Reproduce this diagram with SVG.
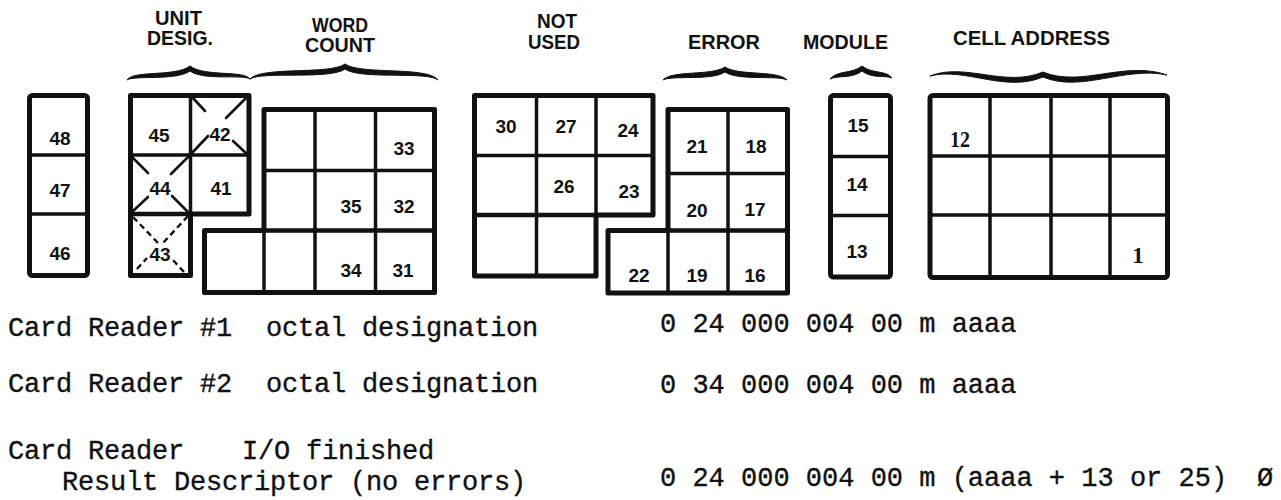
<svg xmlns="http://www.w3.org/2000/svg" width="1281" height="500" viewBox="0 0 1281 500">
<style>
.outer{fill:none;stroke:#111;stroke-width:5;stroke-linejoin:round;stroke-linecap:round}
.inner{fill:none;stroke:#111;stroke-width:3.5;stroke-linecap:round}
.diag{fill:none;stroke:#111;stroke-width:2.6;stroke-linecap:round}
.dash{fill:none;stroke:#111;stroke-width:2.4;stroke-dasharray:6 4}
.num{font-family:"Liberation Sans",Arial,sans-serif;font-weight:bold;font-size:19px;fill:#111;text-anchor:middle}
.snum{font-family:"Liberation Serif","Times New Roman",serif;font-weight:bold;font-size:23px;fill:#111;text-anchor:middle}
.hdr{font-family:"Liberation Sans",Arial,sans-serif;font-weight:bold;font-size:20px;fill:#111;text-anchor:middle}
.brace{fill:#111;stroke:#111;stroke-width:1;stroke-linejoin:round}
.tw{font-family:"Liberation Mono","Courier New",monospace;font-size:27px;letter-spacing:-0.2px;fill:#111;stroke:#111;stroke-width:0.35}
.code{font-family:"Liberation Mono","Courier New",monospace;font-size:27px;fill:#111;stroke:#111;stroke-width:0.35}
</style>
<rect width="1281" height="500" fill="#fff"/>

<g id="headers">
<text class="hdr" x="178.5" y="25" textLength="47" lengthAdjust="spacingAndGlyphs">UNIT</text>
<text class="hdr" x="180" y="45" textLength="66" lengthAdjust="spacingAndGlyphs">DESIG.</text>
<text class="hdr" x="340" y="32" textLength="56" lengthAdjust="spacingAndGlyphs">WORD</text>
<text class="hdr" x="340" y="52" textLength="70" lengthAdjust="spacingAndGlyphs">COUNT</text>
<text class="hdr" x="557" y="28" textLength="40" lengthAdjust="spacingAndGlyphs">NOT</text>
<text class="hdr" x="554" y="49" textLength="52" lengthAdjust="spacingAndGlyphs">USED</text>
<text class="hdr" x="724" y="49" textLength="72" lengthAdjust="spacingAndGlyphs">ERROR</text>
<text class="hdr" x="845.5" y="49" textLength="85" lengthAdjust="spacingAndGlyphs">MODULE</text>
<text class="hdr" x="1031.5" y="44.5" textLength="157" lengthAdjust="spacingAndGlyphs">CELL ADDRESS</text>
</g>

<g id="connectors">
<path class="brace" d="M127,80 C133,70 176,77 190,66 C204,77 244,70 250,79 C243,74 204,81 190,71 C176,81 134,75 127,80 Z"/>
<path class="brace" d="M250,79 C262,66 330,75 345,64 C360,75 428,66 438,80 C428,71 360,80 345,69 C330,80 262,71 250,79 Z"/>
<path class="brace" d="M663,80 C672,70 712,76 725,67 C738,76 778,70 787,80 C778,75 738,81 725,72 C712,81 672,75 663,80 Z"/>
<path class="brace" d="M830,79 C838,70 852,74 862,66 C872,74 886,70 892,78 C886,75 872,79 862,71 C852,79 838,75 830,79 Z"/>
<path class="brace" d="M930,76 C965,62 1005,88 1043,72 C1081,88 1125,60 1167,75 C1125,66 1081,93 1043,77 C1005,93 965,67 930,76 Z"/>
</g>

<g id="bits-46-48">
<rect class="outer" x="29.5" y="95.5" width="58" height="180" rx="3"/>
<path class="inner" d="M29.5,155 H87.5 M29.5,214 H87.5"/>
<text class="num" x="60" y="145">48</text>
<text class="num" x="60" y="197">47</text>
<text class="num" x="60" y="260">46</text>
</g>

<g id="unit-desig">
<path class="outer" d="M130.5,95.5 H249 V214 H190.5 V275.5 H130.5 Z"/>
<path class="inner" d="M190.5,95.5 V214 M130.5,155 H249"/>
<path class="inner" style="stroke-width:4.5" d="M130.5,214 H190.5"/>
<path class="diag" d="M191,154 L208,136 M226,118 L247,97 M192,97 L205,111 M233,141 L247,154"/>
<path class="diag" d="M132,157 L148,173 M172,196 L188,212 M189,156 L171,174 M148,197 L132,212"/>
<path class="dash" d="M133,217 L158,243 M188,216 L163,243 M137,269 L147,258 M184,272 L173,260"/>
<text class="num" x="159" y="142">45</text>
<text class="num" x="220" y="141">42</text>
<text class="num" x="160" y="195">44</text>
<text class="num" x="221" y="195">41</text>
<text class="num" x="160" y="261">43</text>
</g>

<g id="word-count">
<path class="outer" d="M264,109.5 H434.5 V292.5 H204.5 V230.5 H264 Z"/>
<path class="inner" d="M315,109.5 V292.5 M375.5,109.5 V292.5 M264,170.5 H434.5 M264,230.5 V292.5"/>
<path class="inner" style="stroke-width:4.5" d="M264,230.5 H434.5"/>
<text class="num" x="404" y="155">33</text>
<text class="num" x="351" y="213">35</text>
<text class="num" x="404" y="213">32</text>
<text class="num" x="351" y="277">34</text>
<text class="num" x="403" y="277">31</text>
</g>

<g id="not-used">
<path class="outer" d="M474.5,95.5 H653 V215 H596 V276 H474.5 Z"/>
<path class="inner" d="M536.5,95.5 V276 M596,95.5 V215 M474.5,155.5 H653"/>
<path class="inner" style="stroke-width:4.5" d="M474.5,215 H596"/>
<text class="num" x="506" y="133">30</text>
<text class="num" x="566" y="133">27</text>
<text class="num" x="628" y="137">24</text>
<text class="num" x="564" y="193">26</text>
<text class="num" x="629" y="198">23</text>
</g>

<g id="error">
<path class="outer" d="M668,109.5 H787.5 V293 H608 V230.5 H668 Z"/>
<path class="inner" d="M728,109.5 V293 M668,173.5 H787.5 M668,230.5 V293"/>
<path class="inner" style="stroke-width:4.5" d="M668,230.5 H787.5"/>
<text class="num" x="697" y="153">21</text>
<text class="num" x="756" y="153">18</text>
<text class="num" x="697" y="217">20</text>
<text class="num" x="755" y="216">17</text>
<text class="num" x="639" y="282">22</text>
<text class="num" x="697" y="282">19</text>
<text class="num" x="755" y="282">16</text>
</g>

<g id="module">
<rect class="outer" x="830.5" y="95.5" width="60" height="181.5" rx="3"/>
<path class="inner" d="M830.5,156.5 H890.5 M830.5,215.5 H890.5"/>
<text class="num" x="858" y="132">15</text>
<text class="num" x="857" y="191">14</text>
<text class="num" x="857" y="258">13</text>
</g>

<g id="cell-address">
<rect class="outer" x="930" y="95.5" width="237.5" height="182" rx="3"/>
<path class="inner" d="M990,95.5 V277.5 M1051,95.5 V277.5 M1110,95.5 V277.5 M930,156 H1167.5 M930,215 H1167.5"/>
<text class="snum" x="960" y="147" textLength="20" lengthAdjust="spacingAndGlyphs">12</text>
<text class="snum" x="1138" y="263">1</text>
</g>

<g id="descriptions">
<text class="tw" x="8" y="336">Card Reader #1</text>
<text class="tw" x="266" y="336">octal designation</text>
<text class="tw" x="8" y="392">Card Reader #2</text>
<text class="tw" x="266" y="392">octal designation</text>
<text class="tw" x="8" y="459">Card Reader</text>
<text class="tw" x="242" y="459">I/O finished</text>
<text class="tw" x="62" y="490">Result Descriptor (no errors)</text>
<text class="code" x="660" y="332">0 24 000 004 00 m aaaa</text>
<text class="code" x="660" y="393">0 34 000 004 00 m aaaa</text>
<text class="code" x="660" y="486">0 24 000 004 00 m (aaaa + 13 or 25)</text>
<text class="code" x="1257" y="486">Ø</text>
</g>
</svg>
